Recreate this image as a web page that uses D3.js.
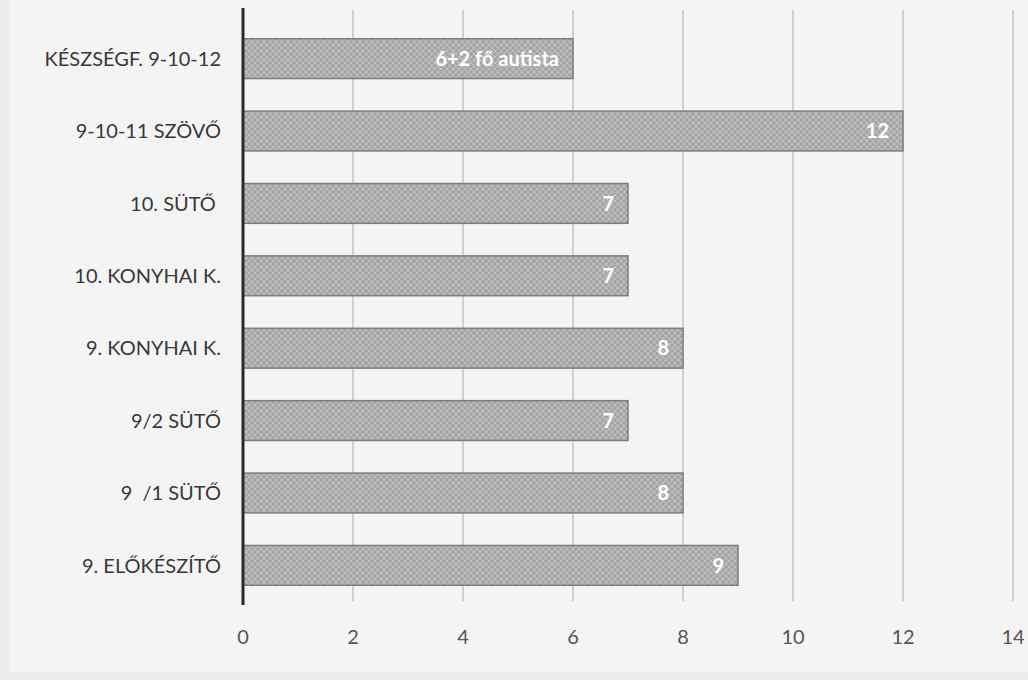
<!DOCTYPE html>
<html>
<head>
<meta charset="utf-8">
<script src="https://cdn.jsdelivr.net/npm/d3@7"></script>
<style>
  body { margin: 0; background: #efefef; }
  svg { display: block; }
</style>
</head>
<body>
<div id="chart"></div>
<script>
const categories = ["KÉSZSÉGF. 9-10-12", "9-10-11 SZÖVŐ", "10. SÜTŐ ", "10. KONYHAI K.", "9. KONYHAI K.", "9/2 SÜTŐ", "9  /1 SÜTŐ", "9. ELŐKÉSZÍTŐ"];
const values = [6, 12, 7, 7, 8, 7, 8, 9];
const barLabels = ["6+2 fő autista", "12", "7", "7", "8", "7", "8", "9"];
const ticks = [0, 2, 4, 6, 8, 10, 12, 14];

const width = 1028;
const height = 680;
const margin = { top: 17, left: 243, right: 15, bottom: 73 };

const svg = d3.select('#chart')
    .append('svg')
    .attr('width', width)
    .attr('height', height);

// paper background
svg.append('rect').attr('width', width).attr('height', height).attr('fill', '#ececec');
svg.append('rect').attr('x', 10).attr('y', 0).attr('width', width - 10).attr('height', 672).attr('fill', '#f4f4f4');

const defs = svg.append('defs');
const pat = defs.append('pattern')
    .attr('id', 'hatch')
    .attr('patternUnits', 'userSpaceOnUse')
    .attr('width', 6)
    .attr('height', 6);
pat.append('rect').attr('width', 6).attr('height', 6).attr('fill', '#a6a6a6');
pat.append('path').attr('d', 'M0,0 L6,6 M6,0 L0,6').attr('stroke', '#c2c2c2').attr('stroke-width', 1);

const x = d3.scaleLinear()
    .domain([0, 14])
    .range([margin.left, width - margin.right]);

const y = d3.scaleBand()
    .domain(categories)
    .range([margin.top, height - margin.bottom])
    .paddingInner(0.45)
    .paddingOuter(0.3);

// grid lines
svg.selectAll('.grid')
    .data(ticks.slice(1))
    .enter()
    .append('line')
    .attr('class', 'grid')
    .attr('x1', d => x(d))
    .attr('x2', d => x(d))
    .attr('y1', 10)
    .attr('y2', 601)
    .attr('stroke', '#bdbdbd')
    .attr('stroke-width', 1.3);

svg.selectAll('.bar')
    .data(values)
    .enter()
    .append('rect')
    .attr('class', 'bar')
    .attr('x', x(0))
    .attr('y', (d, i) => y(categories[i]))
    .attr('width', d => x(d) - x(0))
    .attr('height', y.bandwidth())
    .attr('fill', 'url(#hatch)')
    .attr('stroke', '#7d7d7d')
    .attr('stroke-width', 1.5);

svg.selectAll('.val')
    .data(values)
    .enter()
    .append('text')
    .attr('class', 'val')
    .attr('x', d => x(d) - 14)
    .attr('y', (d, i) => y(categories[i]) + y.bandwidth() / 2)
    .attr('dy', '.36em')
    .attr('text-anchor', 'end')
    .style('font-family', 'Lato, sans-serif')
    .style('font-size', '20px')
    .style('font-weight', 'bold')
    .style('fill', '#ffffff')
    .text((d, i) => barLabels[i]);

// category labels
svg.selectAll('.cat')
    .data(categories)
    .enter()
    .append('text')
    .attr('class', 'cat')
    .attr('x', 221)
    .attr('y', d => y(d) + y.bandwidth() / 2)
    .attr('dy', '.36em')
    .attr('text-anchor', 'end')
    .style('font-family', 'Lato, sans-serif')
    .style('font-size', '20px')
    .style('fill', '#383838')
    .style('white-space', 'pre')
    .text(d => d);

// x axis labels
svg.selectAll('.tick-label')
    .data(ticks)
    .enter()
    .append('text')
    .attr('class', 'tick-label')
    .attr('x', d => x(d))
    .attr('y', 644)
    .attr('text-anchor', 'middle')
    .style('font-family', 'Lato, sans-serif')
    .style('font-size', '20px')
    .style('fill', '#555555')
    .text(d => d);

// vertical axis line
svg.append('line')
    .attr('x1', x(0))
    .attr('x2', x(0))
    .attr('y1', 8)
    .attr('y2', 605)
    .attr('stroke', '#2a2a2a')
    .attr('stroke-width', 3);
</script>
</body>
</html>
